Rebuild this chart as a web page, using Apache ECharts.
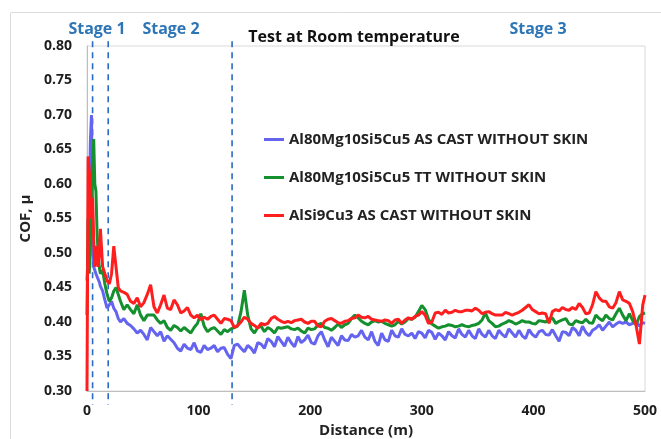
<!DOCTYPE html>
<html><head><meta charset="utf-8">
<script src="https://cdn.jsdelivr.net/npm/echarts@6/dist/echarts.min.js"></script>
<style>html,body{margin:0;padding:0;background:#fff}#c{width:661px;height:439px}</style>
</head><body><div id="c"></div>
<script>
// ---- data ----
const distance = [0,1,2,3,4,5,6,7,8,9,10,11,12,14,16,18,20,22,24,26,28,30,
33,36,39,42,45,48,51,54,57,60,
63,66,69,72,75,78,81,84,87,90,
93,96,99,102,105,108,111,114,117,120,
123,126,129,132,135,138,141,144,147,150,
153,156,159,162,165,168,171,174,177,180,
183,186,189,192,195,198,201,204,207,210,
213,216,219,222,225,228,231,234,237,240,
243,246,249,252,255,258,261,264,267,270,
273,276,279,282,285,288,291,294,297,300,
303,306,309,312,315,318,321,324,327,330,
333,336,339,342,345,348,351,354,357,360,
363,366,369,372,375,378,381,384,387,390,
393,396,399,402,405,408,411,414,417,420,
423,426,429,432,435,438,441,444,447,450,
453,456,459,462,465,468,471,474,477,480,
483,486,489,492,495,498,500];

const blueCOF = [.46,.50,.56,.66,.70,.56,.48,.475,.47,.468,.462,.458,.452,.445,.432,.42,.425,.43,.42,.415,.405,.40,
.405,.398,.395,.390,.384,.388,.382,.374,.392,.386,
.380,.386,.372,.380,.375,.370,.362,.358,.368,.362,
.360,.370,.358,.356,.366,.360,.362,.366,.357,.362,
.363,.353,.347,.366,.368,.362,.357,.366,.362,.355,
.370,.368,.362,.376,.372,.364,.379,.372,.365,.378,
.370,.364,.379,.370,.374,.381,.370,.368,.380,.386,
.374,.364,.378,.372,.366,.380,.374,.373,.382,.378,
.380,.388,.378,.374,.386,.372,.366,.384,.374,.372,
.388,.380,.378,.390,.382,.380,.384,.376,.386,.384,
.377,.388,.385,.375,.384,.380,.374,.386,.380,.377,
.390,.382,.378,.388,.380,.376,.390,.382,.378,.388,
.380,.376,.388,.382,.378,.390,.384,.378,.388,.380,
.376,.389,.382,.378,.386,.388,.382,.381,.389,.380,
.372,.386,.385,.380,.392,.388,.380,.394,.385,.380,
.388,.391,.396,.388,.394,.400,.393,.397,.400,.398,
.400,.396,.398,.400,.394,.399,.398];

const greenCOF = [.41,.55,.47,.50,.58,.62,.665,.60,.59,.53,.50,.48,.47,.475,.455,.44,.43,.435,.445,.45,.44,.43,
.418,.425,.418,.412,.425,.410,.402,.410,.410,.410,
.403,.398,.402,.392,.388,.395,.392,.387,.392,.388,
.384,.392,.398,.412,.394,.386,.390,.392,.387,.382,
.389,.386,.390,.392,.394,.415,.446,.410,.390,.384,
.392,.394,.386,.392,.389,.384,.392,.391,.392,.393,
.390,.389,.391,.387,.384,.391,.389,.390,.396,.398,
.392,.391,.388,.392,.397,.392,.396,.398,.405,.410,
.406,.401,.398,.396,.400,.402,.400,.401,.398,.396,
.394,.396,.401,.397,.400,.405,.404,.407,.415,.424,
.418,.404,.397,.394,.391,.393,.394,.396,.395,.393,
.394,.396,.394,.393,.395,.396,.398,.403,.413,.402,
.398,.393,.394,.397,.399,.402,.400,.397,.399,.402,
.400,.400,.398,.397,.402,.401,.400,.404,.406,.398,
.401,.403,.405,.397,.396,.402,.400,.399,.404,.399,
.398,.410,.405,.402,.410,.405,.403,.412,.420,.410,
.402,.412,.402,.396,.408,.412,.413];

const redCOF = [.30,.64,.64,.60,.55,.58,.52,.48,.50,.51,.48,.50,.535,.48,.47,.46,.455,.47,.51,.48,.45,.445,
.443,.440,.430,.427,.435,.422,.428,.440,.454,.422,
.413,.425,.439,.420,.418,.432,.425,.413,.416,.421,
.410,.406,.410,.403,.407,.404,.408,.410,.404,.398,
.405,.404,.402,.392,.395,.400,.407,.404,.398,.395,
.391,.398,.396,.398,.405,.408,.404,.401,.399,.401,
.399,.402,.403,.404,.400,.398,.401,.401,.394,.393,
.401,.404,.405,.402,.399,.398,.401,.402,.405,.406,
.410,.407,.406,.408,.404,.403,.402,.401,.403,.402,
.398,.403,.404,.398,.403,.406,.404,.408,.410,.415,
.410,.398,.400,.413,.414,.411,.417,.413,.414,.417,
.415,.415,.417,.417,.416,.420,.417,.412,.414,.415,
.412,.410,.410,.410,.414,.412,.410,.412,.414,.417,
.421,.425,.418,.415,.412,.413,.412,.398,.415,.418,
.416,.421,.418,.417,.421,.418,.427,.421,.412,.413,
.425,.444,.435,.430,.430,.422,.420,.428,.444,.432,
.430,.427,.415,.395,.368,.425,.439];

const seriesNames = ['Al80Mg10Si5Cu5 AS CAST WITHOUT SKIN','Al80Mg10Si5Cu5 TT WITHOUT SKIN','AlSi9Cu3 AS CAST WITHOUT SKIN'];
const seriesColors = ['#6464f0','#15902e','#ff1e1e'];
const stageBoundaries = [5, 19, 130];
const stageLabels = ['Stage 1','Stage 2','Stage 3'];
const yTickMin = 0.30, yTickMax = 0.80, yTickStep = 0.05;
const xTickMin = 0, xTickMax = 500, xTickStep = 100;

// ---- chart ----
const FONT = '"Open Sans", "Liberation Sans", sans-serif';
const pairs = arr => distance.map((d,i)=>[d, arr[i]]);
const values = [blueCOF, greenCOF, redCOF];

const series = values.map((arr, i) => ({
  name: seriesNames[i], type:'line', data: pairs(arr), symbol:'none',
  lineStyle:{color: seriesColors[i], width:3}, itemStyle:{color: seriesColors[i]},
  z: 3 + i, animation:false
}));
stageBoundaries.forEach(b => series.push({
  name:'stage'+b, type:'line', data:[[b,0.807],[b,0.28]], symbol:'none', clip:false, silent:true,
  lineStyle:{color:'#2a6bc4', width:1.6, type:[6,5]}, z:2
}));

const chart = echarts.init(document.getElementById('c'));
chart.setOption({
  animation:false,
  backgroundColor:'#fff',
  grid:{left:87, right:16, top:46, bottom:48, show:true, borderColor:'#d9d9d9', borderWidth:1, outerBoundsMode:'none', containLabel:false},
  legend:{
    data: seriesNames, orient:'vertical', left:259, top:126, icon:'rect',
    itemWidth:20, itemHeight:3, itemGap:21, selectedMode:false,
    textStyle:{fontFamily:FONT, fontWeight:'bold', fontSize:15, color:'#222', lineHeight:17}
  },
  xAxis:{
    type:'value', min:xTickMin, max:xTickMax, interval:xTickStep,
    name:'Distance (m)', nameLocation:'middle', nameGap:31,
    nameTextStyle:{fontFamily:FONT, fontWeight:'bold', fontSize:15, color:'#222'},
    axisLine:{show:true, lineStyle:{color:'#bfbfbf'}}, axisTick:{show:false}, splitLine:{show:false},
    axisLabel:{fontFamily:FONT, fontWeight:'bold', fontSize:14, color:'#1e1e1e', margin:13}
  },
  yAxis:{
    type:'value', min:yTickMin, max:yTickMax, interval:yTickStep,
    name:'COF, μ', nameLocation:'middle', nameGap:50, nameRotate:90,
    nameTextStyle:{fontFamily:FONT, fontWeight:'bold', fontSize:15, color:'#222'},
    axisLine:{show:true, lineStyle:{color:'#bfbfbf'}}, axisTick:{show:false}, splitLine:{show:false},
    axisLabel:{fontFamily:FONT, fontWeight:'bold', fontSize:14, color:'#1e1e1e', margin:15, formatter:v=>v.toFixed(2)}
  },
  graphic:[
    {type:'rect', silent:true, z:-10, shape:{x:10.5,y:12.5,width:700,height:500}, style:{fill:null, stroke:'#dcdcdc', lineWidth:1}},
    {type:'text', x:97, y:29, style:{text:stageLabels[0], align:'center', verticalAlign:'middle', font:'bold 16px '+FONT, fill:'#2e75b6'}},
    {type:'text', x:171, y:29, style:{text:stageLabels[1], align:'center', verticalAlign:'middle', font:'bold 16px '+FONT, fill:'#2e75b6'}},
    {type:'text', x:538, y:29, style:{text:stageLabels[2], align:'center', verticalAlign:'middle', font:'bold 16px '+FONT, fill:'#2e75b6'}},
    {type:'text', x:354, y:37, style:{text:'Test at Room temperature', align:'center', verticalAlign:'middle', font:'bold 16px '+FONT, fill:'#111'}}
  ],
  series: series
});
</script>
</body></html>
